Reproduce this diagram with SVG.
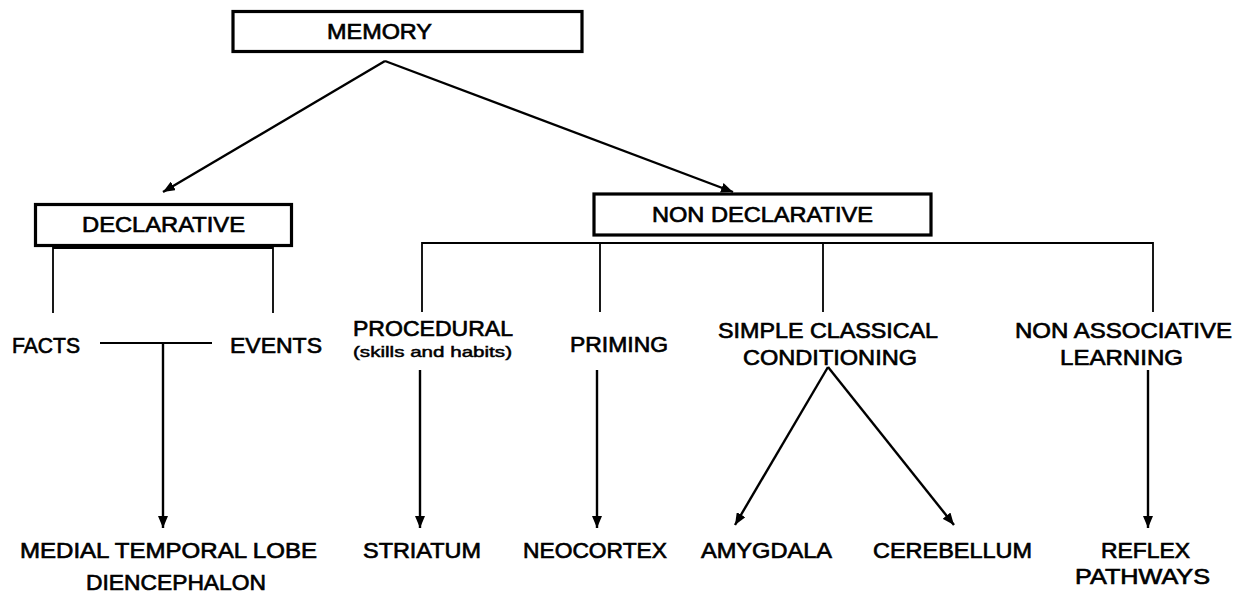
<svg xmlns="http://www.w3.org/2000/svg" width="1242" height="601" viewBox="0 0 1242 601">
<defs>
<style>
.box{fill:#fff;stroke:#000;stroke-width:3.2}
.t{font-family:"Liberation Sans",Arial,sans-serif;font-size:21.5px;fill:#000;stroke:#000;stroke-width:0.65}
.s{font-size:15.5px;stroke-width:0.5}
.c{stroke:#000;stroke-width:2.4;fill:none}
.br{stroke:#000;stroke-width:1.8;fill:none}
.a{marker-end:url(#ah)}
</style>
<marker id="ah" viewBox="0 0 12 10" refX="12" refY="5" markerWidth="12" markerHeight="10" markerUnits="userSpaceOnUse" orient="auto">
<path d="M0,0 L12,5 L0,10 z" fill="#000"/>
</marker>
</defs>
<rect width="1242" height="601" fill="#fff"/>
<g id="connectors">
<path class="c a" d="M385,61 L163,192"/>
<path class="c a" d="M385,61 L733,192"/>
<path class="br" d="M53,313 V248 H273 V313"/>
<path class="br" d="M100,343 H212"/>
<path class="c a" d="M163,343 V528"/>
<path class="br" d="M422,312 V243 H1153 V312 M600,243 V312 M823,243 V312"/>
<path class="c a" d="M420,370 V528"/>
<path class="c a" d="M597,370 V528"/>
<path class="c a" d="M1148,370 V528"/>
<path class="c a" d="M828,367 L735,525"/>
<path class="c a" d="M828,367 L954,525"/>
</g>
<g id="memory"><rect class="box" x="233" y="11.5" width="349" height="40"/><text class="t" x="327" y="39" textLength="105" lengthAdjust="spacingAndGlyphs">MEMORY</text></g>
<g id="declarative"><rect class="box" x="35.5" y="204.5" width="256" height="41"/><text class="t" x="82" y="232" textLength="163" lengthAdjust="spacingAndGlyphs">DECLARATIVE</text></g>
<g id="nondeclarative"><rect class="box" x="594" y="194" width="337" height="41"/><text class="t" x="652" y="222" textLength="221" lengthAdjust="spacingAndGlyphs">NON DECLARATIVE</text></g>
<g id="facts"><text class="t" x="12" y="353" textLength="68" lengthAdjust="spacingAndGlyphs">FACTS</text></g>
<g id="events"><text class="t" x="230" y="353" textLength="92" lengthAdjust="spacingAndGlyphs">EVENTS</text></g>
<g id="procedural"><text class="t" x="353" y="336" textLength="160" lengthAdjust="spacingAndGlyphs">PROCEDURAL</text><text class="t s" x="353" y="357" textLength="159" lengthAdjust="spacingAndGlyphs">(skills and habits)</text></g>
<g id="priming"><text class="t" x="570" y="352" textLength="98" lengthAdjust="spacingAndGlyphs">PRIMING</text></g>
<g id="conditioning"><text class="t" x="718" y="338" textLength="220" lengthAdjust="spacingAndGlyphs">SIMPLE CLASSICAL</text><text class="t" x="743" y="365" textLength="174" lengthAdjust="spacingAndGlyphs">CONDITIONING</text></g>
<g id="nonassociative"><text class="t" x="1015" y="338" textLength="217" lengthAdjust="spacingAndGlyphs">NON ASSOCIATIVE</text><text class="t" x="1060" y="365" textLength="123" lengthAdjust="spacingAndGlyphs">LEARNING</text></g>
<g id="mtl"><text class="t" x="20" y="558" textLength="297" lengthAdjust="spacingAndGlyphs">MEDIAL TEMPORAL LOBE</text><text class="t" x="86" y="590" textLength="180" lengthAdjust="spacingAndGlyphs">DIENCEPHALON</text></g>
<g id="striatum"><text class="t" x="363" y="558" textLength="118" lengthAdjust="spacingAndGlyphs">STRIATUM</text></g>
<g id="neocortex"><text class="t" x="523" y="558" textLength="144" lengthAdjust="spacingAndGlyphs">NEOCORTEX</text></g>
<g id="amygdala"><text class="t" x="701" y="558" textLength="131" lengthAdjust="spacingAndGlyphs">AMYGDALA</text></g>
<g id="cerebellum"><text class="t" x="873" y="558" textLength="159" lengthAdjust="spacingAndGlyphs">CEREBELLUM</text></g>
<g id="reflex"><text class="t" x="1101" y="558" textLength="89" lengthAdjust="spacingAndGlyphs">REFLEX</text><text class="t" x="1075" y="584" textLength="135" lengthAdjust="spacingAndGlyphs">PATHWAYS</text></g>
</svg>
